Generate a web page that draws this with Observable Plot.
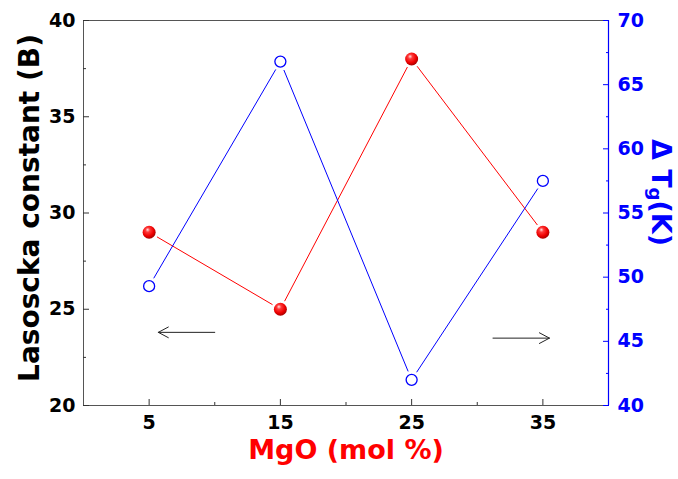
<!DOCTYPE html>
<html><head><meta charset="utf-8">
<script src="https://cdn.jsdelivr.net/npm/d3@7"></script>
<script src="https://cdn.jsdelivr.net/npm/@observablehq/plot@0.6"></script>
<style>body{margin:0;background:#fff} svg{display:block}</style>
</head><body><div id="chart"></div>
<script>
// ---- data ----
const mgo = [5, 15, 25, 35];
const lasoscka = [29, 25, 38, 29];
const deltaTg = [49.3, 66.8, 42.0, 57.5];
const xTicks = [5, 15, 25, 35];
const xMinor = [10, 20, 30];
const leftTicks = [20, 25, 30, 35, 40];
const leftMinor = [22.5, 27.5, 32.5, 37.5];
const rightTicks = [40, 45, 50, 55, 60, 65, 70];
const rightMinor = [42.5, 47.5, 52.5, 57.5, 62.5, 67.5];
const arrowX1 = [10.0, 31.2];
const arrowX2 = [5.7, 35.5];
const arrowY = [23.8, 23.5];

const L = [20, 40], R = [40, 70];
const toLeft = v => L[0] + (v - R[0]) * (L[1] - L[0]) / (R[1] - R[0]);
const toRight = v => R[0] + (v - L[0]) * (R[1] - R[0]) / (L[1] - L[0]);

const red = mgo.map((x, i) => ({x, y: lasoscka[i]}));
const blue = mgo.map((x, i) => ({x, y: toLeft(deltaTg[i])}));
const segs = pts => pts.slice(1).map((p, i) => ({x1: pts[i].x, y1: pts[i].y, x2: p.x, y2: p.y}));
const arrows = arrowX1.map((x1, i) => ({x1, x2: arrowX2[i], y: arrowY[i]}));

const defs = () => {
  const d = d3.create("svg:defs");
  const g = d.append("radialGradient").attr("id", "ballRed")
    .attr("cx", "0.42").attr("cy", "0.38").attr("r", "0.62")
    .attr("fx", "0.38").attr("fy", "0.3");
  g.append("stop").attr("offset", "0%").attr("stop-color", "#ffe0e0");
  g.append("stop").attr("offset", "28%").attr("stop-color", "#ff3a3a");
  g.append("stop").attr("offset", "70%").attr("stop-color", "#ee0000");
  g.append("stop").attr("offset", "100%").attr("stop-color", "#a80000");
  return d.node();
};

const rightLabel = (index, scales, values, dims) => {
  const cx = dims.width - dims.marginRight + 52;
  const cy = (dims.marginTop + dims.height - dims.marginBottom) / 2 - 20;
  const t = d3.create("svg:text")
    .attr("transform", `translate(${cx},${cy}) rotate(90)`)
    .attr("text-anchor", "middle").attr("dominant-baseline", "middle")
    .attr("fill", "blue").attr("font-size", 27).attr("font-weight", "bold");
  t.append("tspan").text("\u0394 T");
  t.append("tspan").attr("font-size", 18).attr("dy", 6).text("g");
  t.append("tspan").attr("dy", -6).text("(K)");
  return t.node();
};

const chart = Plot.plot({
  width: 678, height: 479,
  marginLeft: 83, marginRight: 70, marginTop: 20, marginBottom: 74,
  style: {fontFamily: "'DejaVu Sans', sans-serif", fontWeight: "bold", fontSize: "19px", background: "white"},
  x: {domain: [0, 40], axis: null},
  y: {domain: [20, 40], axis: null},
  marks: [
    defs,
    Plot.frame({stroke: "#555"}),
    Plot.ruleX([40], {stroke: "blue", strokeWidth: 1.2}),
    Plot.axisX(xTicks, {tickSize: -6, tickPadding: 16, stroke: "#333", fill: "black", label: null}),
    Plot.axisX(xMinor, {tickSize: -3, tickFormat: () => "", stroke: "#333", label: null}),
    Plot.axisY(leftTicks, {anchor: "left", tickSize: -6, tickPadding: 14, stroke: "#333", fill: "black", label: null}),
    Plot.axisY(leftMinor, {anchor: "left", tickSize: -3, tickFormat: () => "", stroke: "#333", label: null}),
    Plot.axisY(rightTicks.map(toLeft), {anchor: "right", tickSize: -6, tickPadding: 15, tickFormat: d => Math.round(toRight(d)), stroke: "blue", fill: "blue", label: null}),
    Plot.axisY(rightMinor.map(toLeft), {anchor: "right", tickSize: -3, tickFormat: () => "", stroke: "blue", label: null}),
    Plot.arrow(segs(red), {x1: "x1", y1: "y1", x2: "x2", y2: "y2", stroke: "red", strokeWidth: 1, headLength: 0, insetStart: 9.5, insetEnd: 9.5}),
    Plot.arrow(segs(blue), {x1: "x1", y1: "y1", x2: "x2", y2: "y2", stroke: "blue", strokeWidth: 1, headLength: 0, insetStart: 9.5, insetEnd: 9.5}),
    Plot.dot(red, {x: "x", y: "y", r: 6.5, fill: "url(#ballRed)"}),
    Plot.dot(blue, {x: "x", y: "y", r: 5.5, fill: "white", stroke: "blue", strokeWidth: 1.3}),
    Plot.arrow(arrows, {x1: "x1", x2: "x2", y1: "y", y2: "y", stroke: "#222", strokeWidth: 1, headLength: 17, headAngle: 56}),
    Plot.text(["MgO (mol %)"], {frameAnchor: "bottom", dy: 53, fill: "red", fontSize: 27, fontWeight: "bold"}),
    Plot.text(["Lasoscka constant (B)"], {frameAnchor: "left", textAnchor: "middle", dx: -53, dy: -5, rotate: -90, fill: "black", fontSize: 28, fontWeight: "bold"}),
    rightLabel
  ]
});
document.getElementById("chart").appendChild(chart);
</script>
</body></html>
